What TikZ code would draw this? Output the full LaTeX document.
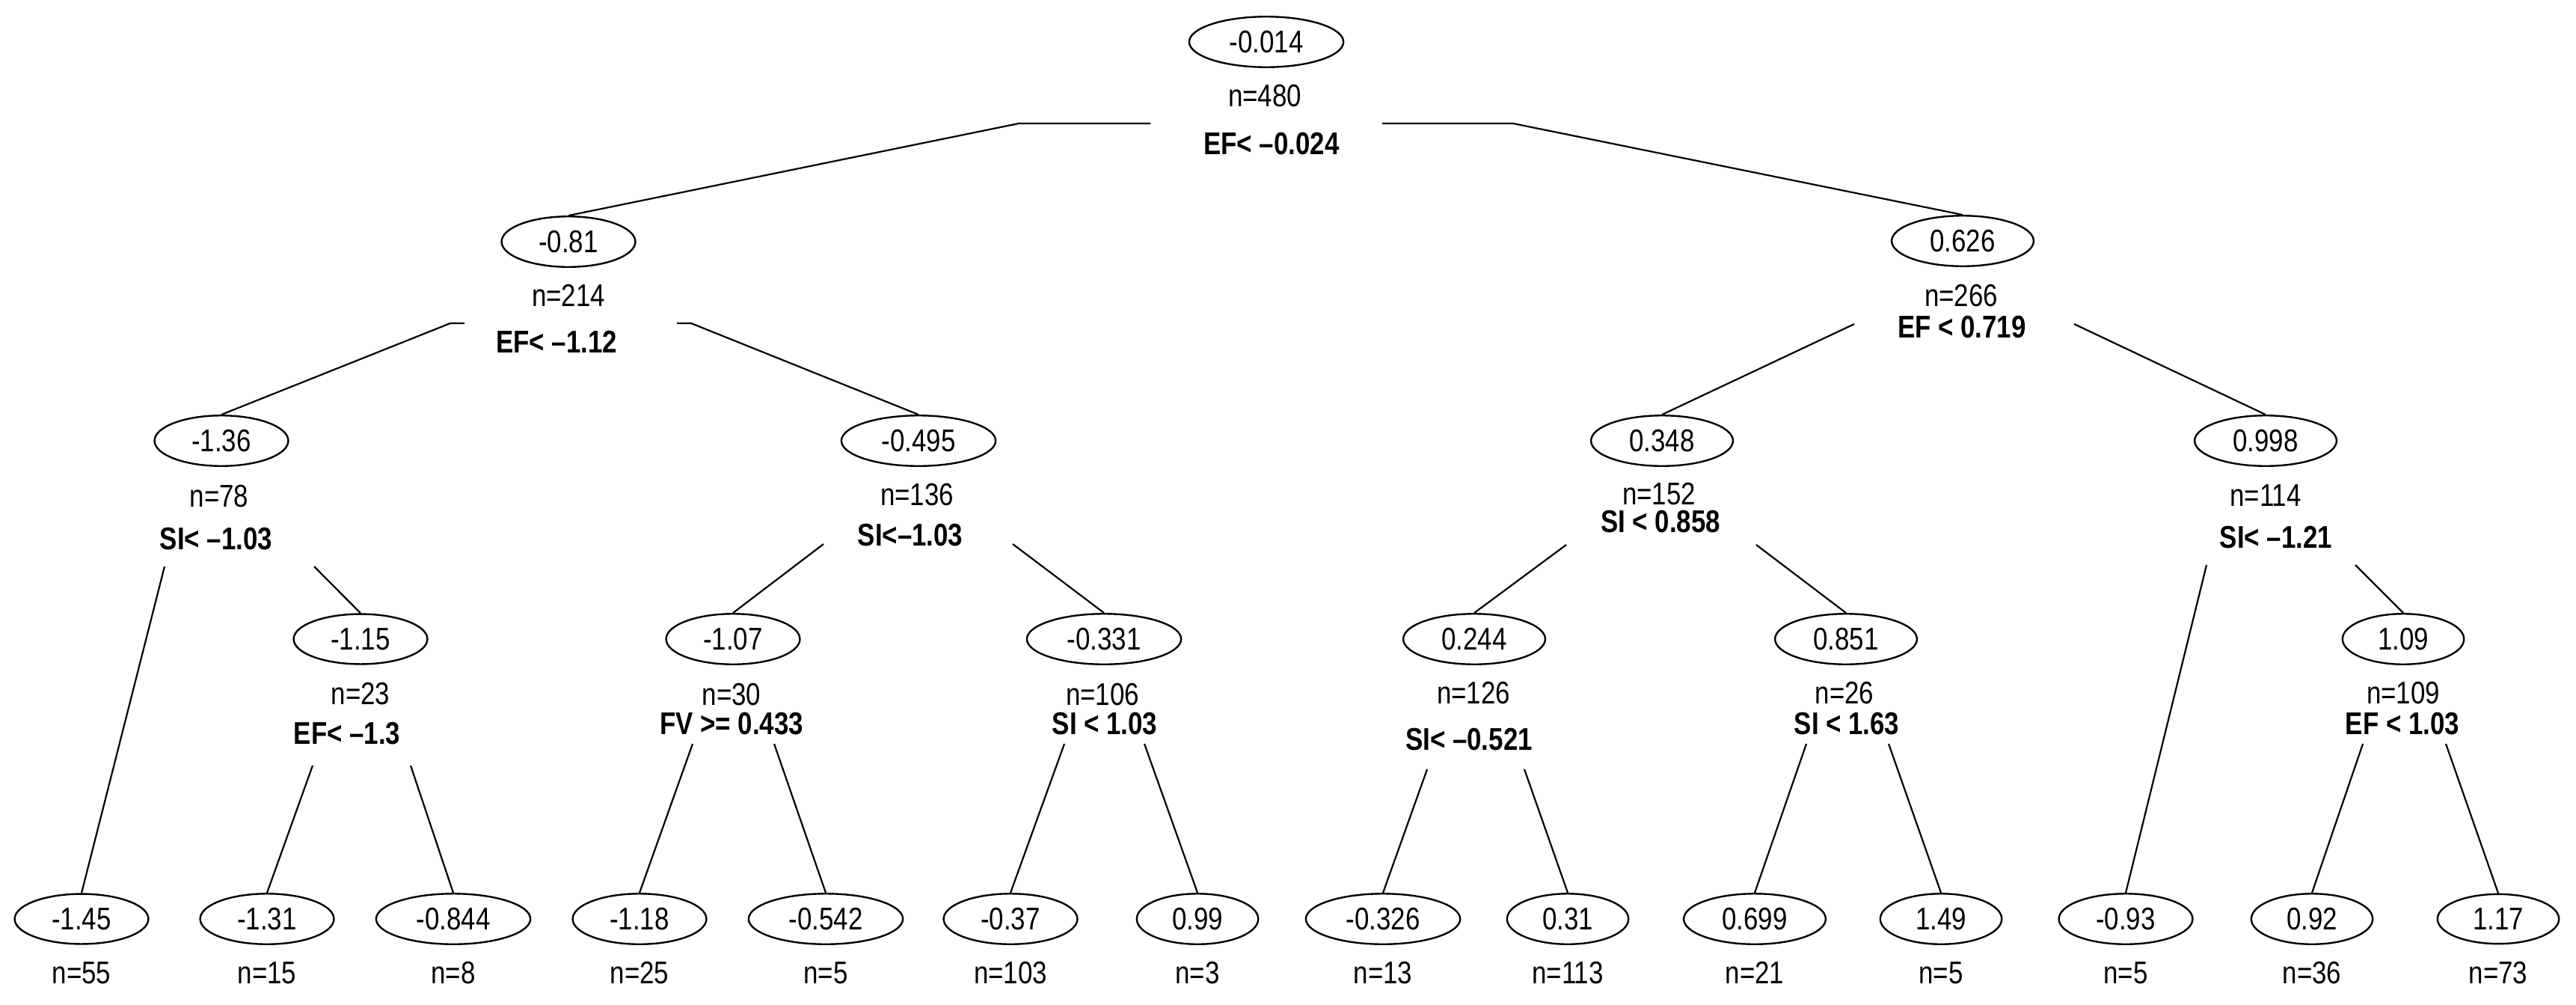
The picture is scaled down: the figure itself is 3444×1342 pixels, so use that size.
\documentclass[tikz,border=0pt]{standalone}
\usepackage{fontspec}
\setmainfont[FakeStretch=0.83]{Liberation Sans}
\usetikzlibrary{shapes.geometric}
\begin{document}
\begin{tikzpicture}[x=1pt,y=-1pt,
  every node/.style={font=\fontsize{42}{50}\selectfont},
  val/.style={draw, ellipse, line width=2.4pt, inner xsep=23.5pt, inner ysep=9pt},
  cnt/.style={inner sep=0pt},
  split/.style={inner sep=0pt, font=\fontsize{42}{50}\selectfont\bfseries},
  edge/.style={line width=2.2pt}]
\useasboundingbox (0,0) rectangle (3444,1342);

% ---- root
\node[val] (r) at (1693,56) {-0.014};
\node[cnt] (rn) at (1691,128) {n=480};
\node[split] (rs) at (1700,192) {EF< –0.024};

% ---- level 1
\node[val] (a) at (760,323) {-0.81};
\node[cnt] (an) at (760,395) {n=214};
\node[split] (as) at (744,457) {EF< –1.12};

\node[val] (b) at (2624,322) {0.626};
\node[cnt] (bn) at (2622,395) {n=266};
\node[split] (bs) at (2623,437) {EF < 0.719};

% ---- level 2
\node[val] (aa) at (296,589) {-1.36};
\node[cnt] (aan) at (293,663) {n=78};
\node[split] (aas) at (289,720) {SI< –1.03};

\node[val] (ab) at (1228,589) {-0.495};
\node[cnt] (abn) at (1226,661) {n=136};
\node[split] (abs) at (1217,715) {SI<–1.03};

\node[val] (ba) at (2222,589) {0.348};
\node[cnt] (ban) at (2218,660) {n=152};
\node[split] (bas) at (2220,697) {SI < 0.858};

\node[val] (bb) at (3029,589) {0.998};
\node[cnt] (bbn) at (3029,662) {n=114};
\node[split] (bbs) at (3043,718) {SI< –1.21};

% ---- level 3
\node[val] (aab) at (482,854) {-1.15};
\node[cnt] (aabn) at (482,927) {n=23};
\node[split] (aabs) at (464,980) {EF< –1.3};

\node[val] (aba) at (980,854) {-1.07};
\node[cnt] (aban) at (978,928) {n=30};
\node[split] (abas) at (978,967) {FV >= 0.433};

\node[val] (abb) at (1476,854) {-0.331};
\node[cnt] (abbn) at (1474,928) {n=106};
\node[split] (abbs) at (1477,967) {SI < 1.03};

\node[val] (baa) at (1971,854) {0.244};
\node[cnt] (baan) at (1970,926) {n=126};
\node[split] (baas) at (1964,988) {SI< –0.521};

\node[val] (bab) at (2468,854) {0.851};
\node[cnt] (babn) at (2466,926) {n=26};
\node[split] (babs) at (2469,967) {SI < 1.63};

\node[val] (bbb) at (3213,854) {1.09};
\node[cnt] (bbbn) at (3213,926) {n=109};
\node[split] (bbbs) at (3212,967) {EF < 1.03};

% ---- leaves
\node[val] (l1) at (109,1228) {-1.45};   \node[cnt] (n1) at (109,1300) {n=55};
\node[val] (l2) at (357,1228) {-1.31};   \node[cnt] (n2) at (357,1300) {n=15};
\node[val] (l3) at (606,1228) {-0.844};  \node[cnt] (n3) at (606,1300) {n=8};
\node[val] (l4) at (855,1228) {-1.18};   \node[cnt] (n4) at (855,1300) {n=25};
\node[val] (l5) at (1104,1228) {-0.542}; \node[cnt] (n5) at (1104,1300) {n=5};
\node[val] (l6) at (1351,1228) {-0.37};  \node[cnt] (n6) at (1351,1300) {n=103};
\node[val] (l7) at (1601,1228) {0.99};   \node[cnt] (n7) at (1601,1300) {n=3};
\node[val] (l8) at (1849,1228) {-0.326}; \node[cnt] (n8) at (1849,1300) {n=13};
\node[val] (l9) at (2096,1228) {0.31};   \node[cnt] (n9) at (2096,1300) {n=113};
\node[val] (l10) at (2346,1228) {0.699}; \node[cnt] (n10) at (2346,1300) {n=21};
\node[val] (l11) at (2595,1228) {1.49};  \node[cnt] (n11) at (2595,1300) {n=5};
\node[val] (l12) at (2842,1228) {-0.93}; \node[cnt] (n12) at (2842,1300) {n=5};
\node[val] (l13) at (3091,1228) {0.92};  \node[cnt] (n13) at (3091,1300) {n=36};
\node[val] (l14) at (3340,1228) {1.17};  \node[cnt] (n14) at (3340,1300) {n=73};

% ---- connector start points
\coordinate (rL) at (1538,165);  \coordinate (rLk) at (1362,165);
\coordinate (rR) at (1848,165);  \coordinate (rRk) at (2023,165);
\coordinate (aL) at (621,432);   \coordinate (aLk) at (602,432);
\coordinate (aR) at (905,432);   \coordinate (aRk) at (924,432);
\coordinate (bL) at (2479,433);  \coordinate (bR) at (2773,433);
\coordinate (aaL) at (220,757);  \coordinate (aaR) at (420,757);
\coordinate (abL) at (1101,727); \coordinate (abR) at (1354,727);
\coordinate (baL) at (2094,728); \coordinate (baR) at (2348,728);
\coordinate (bbL) at (2950,755); \coordinate (bbR) at (3149,755);
\coordinate (aabL) at (418,1023);  \coordinate (aabR) at (549,1023);
\coordinate (abaL) at (926,994);   \coordinate (abaR) at (1035,994);
\coordinate (abbL) at (1423,994);  \coordinate (abbR) at (1530,994);
\coordinate (baaL) at (1908,1028); \coordinate (baaR) at (2038,1028);
\coordinate (babL) at (2415,994);  \coordinate (babR) at (2525,994);
\coordinate (bbbL) at (3159,994);  \coordinate (bbbR) at (3270,994);

% ---- connectors
\draw[edge] (rL) -- (rLk) -- (a.north);
\draw[edge] (rR) -- (rRk) -- (b.north);
\draw[edge] (aL) -- (aLk) -- (aa.north);
\draw[edge] (aR) -- (aRk) -- (ab.north);
\draw[edge] (bL) -- (ba.north);
\draw[edge] (bR) -- (bb.north);
\draw[edge] (aaL) -- (l1.north);
\draw[edge] (aaR) -- (aab.north);
\draw[edge] (abL) -- (aba.north);
\draw[edge] (abR) -- (abb.north);
\draw[edge] (baL) -- (baa.north);
\draw[edge] (baR) -- (bab.north);
\draw[edge] (bbL) -- (l12.north);
\draw[edge] (bbR) -- (bbb.north);
\draw[edge] (aabL) -- (l2.north);
\draw[edge] (aabR) -- (l3.north);
\draw[edge] (abaL) -- (l4.north);
\draw[edge] (abaR) -- (l5.north);
\draw[edge] (abbL) -- (l6.north);
\draw[edge] (abbR) -- (l7.north);
\draw[edge] (baaL) -- (l8.north);
\draw[edge] (baaR) -- (l9.north);
\draw[edge] (babL) -- (l10.north);
\draw[edge] (babR) -- (l11.north);
\draw[edge] (bbbL) -- (l13.north);
\draw[edge] (bbbR) -- (l14.north);
\end{tikzpicture}
\end{document}
